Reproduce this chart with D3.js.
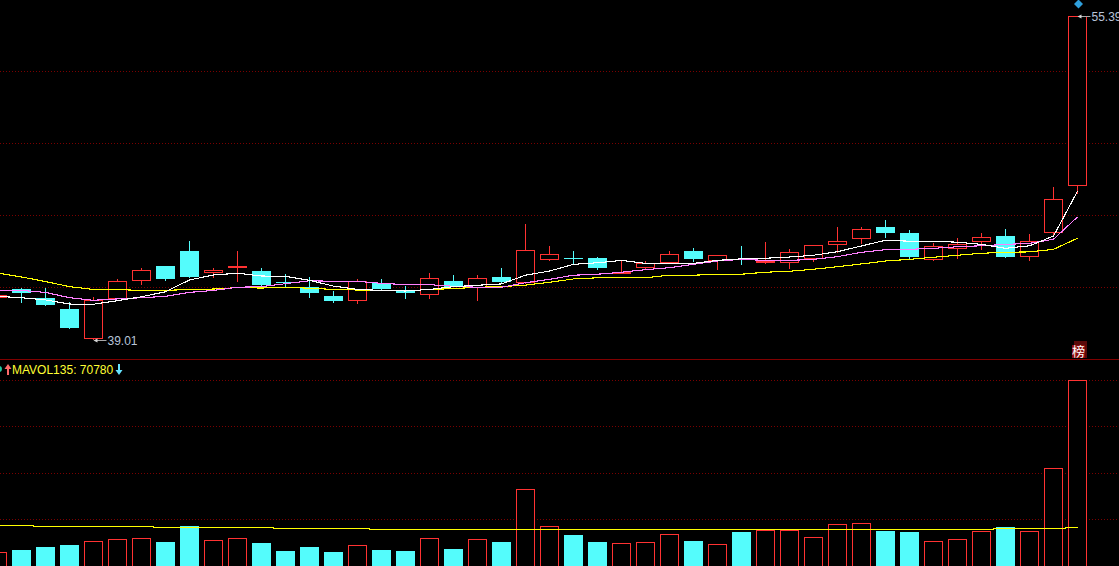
<!DOCTYPE html>
<html>
<head>
<meta charset="utf-8">
<script src="https://cdn.jsdelivr.net/npm/d3@7"></script>
<style>
html,body{margin:0;padding:0;background:#000;overflow:hidden}
svg{display:block}
text{font-family:"Liberation Sans",Arial,sans-serif}
</style>
</head>
<body>
<svg id="chart" width="1119" height="566"></svg>
<script>
const opens  = [41.14,41.57,41.14,40.58,39.04,41.09,42.00,42.76,43.52,42.40,42.66,42.50,41.97,41.69,41.24,40.98,41.90,41.54,41.29,42.00,41.64,42.20,41.90,43.06,43.17,43.16,42.40,42.66,42.91,43.52,43.01,43.12,42.91,42.91,43.11,43.82,44.12,44.73,44.43,43.06,43.62,43.97,44.27,43.21,44.43,46.81];
const closes = [41.29,41.39,40.78,39.62,41.06,42.00,42.55,42.10,42.20,42.55,42.76,41.79,41.92,41.39,40.98,42.00,41.59,41.39,42.15,41.69,42.15,41.95,43.57,43.36,43.15,42.66,42.45,42.91,43.36,43.11,43.31,43.10,43.03,43.47,43.82,44.02,44.63,44.43,43.21,43.77,43.87,44.22,43.21,44.02,46.15,55.39];
const highs  = [41.34,41.64,41.64,40.93,41.19,42.10,42.66,42.76,44.02,42.66,43.52,42.66,42.35,42.20,41.49,42.10,42.10,41.74,42.40,42.30,42.30,42.66,44.88,43.77,43.52,43.21,43.06,43.01,43.52,43.67,43.31,43.77,43.97,43.62,43.82,44.73,44.73,45.09,44.58,43.92,44.17,44.43,44.63,44.38,46.76,55.39];
const lows   = [41.14,40.90,40.73,39.57,39.01,41.09,41.79,42.00,42.15,42.15,41.95,41.64,41.69,41.14,40.88,40.83,41.54,41.09,41.09,41.69,40.98,41.90,41.85,43.01,42.81,42.55,42.35,42.61,42.91,42.96,42.55,42.81,42.86,42.61,42.96,43.41,43.87,44.17,43.11,43.01,43.11,43.57,43.16,43.01,44.27,46.40];
const ma5    = [41.22,41.15,41.04,40.83,40.82,41.00,41.20,41.45,42.05,42.30,42.39,42.25,42.23,42.03,41.74,41.57,41.52,41.49,41.57,41.71,41.78,41.85,42.29,42.50,42.84,42.92,43.04,42.89,42.89,42.89,43.04,43.12,43.15,43.21,43.30,43.48,43.77,44.06,44.01,44.01,43.96,43.85,43.65,43.78,44.27,46.54];
const ma10   = [41.54,41.52,41.42,41.15,41.02,41.09,41.15,41.22,41.42,41.52,41.68,41.71,41.86,42.01,41.98,41.98,41.88,41.81,41.81,41.73,41.68,41.68,41.91,42.08,42.29,42.34,42.44,42.57,42.67,42.84,43.01,43.09,43.04,43.04,43.09,43.23,43.45,43.58,43.60,43.65,43.73,43.78,43.85,43.90,44.11,45.24];
const ma20   = [42.40,42.20,41.97,41.71,41.57,41.56,41.52,41.52,41.57,41.59,41.66,41.64,41.68,41.63,41.57,41.54,41.52,41.49,41.57,41.61,41.68,41.71,41.79,41.93,42.10,42.16,42.16,42.16,42.29,42.29,42.34,42.34,42.44,42.49,42.59,42.72,42.86,43.01,43.09,43.20,43.30,43.40,43.45,43.47,43.60,44.16];
const volumes= [25180,29410,34920,38600,45400,49070,50910,44110,73520,47240,50910,42270,27570,34920,25730,38050,29410,27570,50910,31250,49070,44110,140970,72970,56980,44110,41720,43560,58260,45950,39880,62490,65620,65620,52750,76640,78480,64330,62490,45400,49070,63780,71680,63780,179570,341320];
const mavol  = [74800,74800,72970,72970,72970,72970,72970,71130,71130,71130,71130,71130,69290,69290,69290,69290,67450,67450,67450,67450,67450,67450,67450,67450,67450,67450,67450,67450,67450,67450,67450,67450,67450,67450,67450,67450,67450,67450,67450,67450,67450,67450,69290,69290,69290,70780];
const priceGrid = [52.60,48.96,45.31,41.67];
const volGrid   = [340950,256400,170000,85470];
const lowLabel  = "39.01";
const highLabel = "55.39";
const legendText = "MAVOL135: 70780";
const badgeText = "榜";

const RED="#ff3232", CYAN="#54fcfc", GRID="#7a0000";
const svg=d3.select("#chart");
svg.append("rect").attr("width",1119).attr("height",566).attr("fill","#000");

const x=d3.scaleLinear().domain([0,45]).range([-2.5,1077.5]);
const yP=d3.scaleLinear().domain([39.01,55.39]).range([340,16.4]);
const yV=d3.scaleLinear().domain([0,341320]).range([566,380.3]);
const snap=v=>Math.floor(v)+0.5;
const idx=d3.range(opens.length);

// grid
svg.append("g").selectAll("line").data(priceGrid).join("line")
  .attr("x1",0).attr("x2",1119).attr("y1",d=>snap(yP(d))).attr("y2",d=>snap(yP(d)))
  .attr("stroke",GRID).attr("stroke-dasharray","1,2").attr("shape-rendering","crispEdges");
svg.append("g").selectAll("line").data(volGrid).join("line")
  .attr("x1",0).attr("x2",1119).attr("y1",d=>snap(yV(d))).attr("y2",d=>snap(yV(d)))
  .attr("stroke",GRID).attr("stroke-dasharray","1,2").attr("shape-rendering","crispEdges");
svg.append("line").attr("x1",0).attr("x2",1119).attr("y1",359.5).attr("y2",359.5)
  .attr("stroke","#800000").attr("shape-rendering","crispEdges");

const isUp=i=>closes[i]>=opens[i];

// candles
const c=svg.append("g").attr("shape-rendering","crispEdges");
c.selectAll("line.w").data(idx).join("line").attr("class","w")
  .attr("x1",i=>x(i)).attr("x2",i=>x(i))
  .attr("y1",i=>Math.round(yP(highs[i]))).attr("y2",i=>Math.round(yP(lows[i])))
  .attr("stroke",i=>isUp(i)?RED:CYAN);
c.selectAll("rect.b").data(idx).join("rect").attr("class","b")
  .each(function(i){
    const t=Math.round(yP(Math.max(opens[i],closes[i])));
    const b=Math.round(yP(Math.min(opens[i],closes[i])));
    const s=d3.select(this);
    if(isUp(i)){
      s.attr("x",x(i)-9).attr("width",18).attr("y",t+0.5).attr("height",Math.max(b-t-1,0.5))
       .attr("fill","#000").attr("stroke",RED);
    } else {
      s.attr("x",x(i)-9.5).attr("width",19).attr("y",t).attr("height",Math.max(b-t,1))
       .attr("fill",CYAN);
    }
  });

// moving averages
const line=d3.line().x((d,i)=>x(i)).y(d=>yP(d));
[[ma20,"#ffff00"],[ma10,"#ff80ff"],[ma5,"#ffffff"]].forEach(([s,col])=>{
  svg.append("path").attr("d",line(s)).attr("fill","none").attr("stroke",col)
    .attr("stroke-width",1.1).attr("shape-rendering","crispEdges");
});

// volume
const v=svg.append("g").attr("shape-rendering","crispEdges");
v.selectAll("rect").data(idx).join("rect").each(function(i){
  const t=Math.round(yV(volumes[i]));
  const s=d3.select(this);
  if(isUp(i)){
    s.attr("x",x(i)-9).attr("width",18).attr("y",t+0.5).attr("height",566-t+3)
     .attr("fill","#000").attr("stroke",RED);
  } else {
    s.attr("x",x(i)-9.5).attr("width",19).attr("y",t).attr("height",566-t).attr("fill",CYAN);
  }
});
const volLine=d3.line().x((d,i)=>x(i)).y(d=>snap(yV(d))).curve(d3.curveStep);
svg.append("path").attr("d",volLine(mavol)).attr("fill","none").attr("stroke","#ffff00")
  .attr("shape-rendering","crispEdges");

// extreme labels
function extreme(i,val,label){
  const xa=x(i), ya=snap(yP(val));
  svg.append("line").attr("x1",xa+2).attr("x2",xa+13).attr("y1",ya).attr("y2",ya).attr("stroke","#a8a8a8");
  svg.append("path").attr("d",`M${xa},${ya}L${xa+4},${ya-2}L${xa+4},${ya+2}Z`).attr("fill","#d8d8d8");
  svg.append("text").attr("x",xa+14).attr("y",ya+4).attr("font-size",12).attr("fill","#b8c4d8").text(label);
}
extreme(4,d3.min(lows),lowLabel);
extreme(45,d3.max(highs),highLabel);

// top diamond
svg.append("path").attr("d",d3.symbol(d3.symbolSquare,40)())
  .attr("transform",`translate(${x(45)+1},4) rotate(45)`).attr("fill","#2f9fdc");

// badge
svg.append("rect").attr("x",1074).attr("y",341).attr("width",13).attr("height",17).attr("fill","#5a0a0a");
svg.append("rect").attr("x",1072).attr("y",345).attr("width",13).attr("height",13).attr("fill","#8a0c0c");
svg.append("text").attr("x",1078.5).attr("y",356).attr("text-anchor","middle")
  .attr("font-size",13).attr("fill","#fff").style("font-family",'"Noto Sans CJK SC"').text(badgeText);

// volume legend
svg.append("circle").attr("cx",-1).attr("cy",369).attr("r",3).attr("fill","#22c8a0");
svg.append("path").attr("d","M8,364L11.5,369L9,369L9,375L7,375L7,369L4.5,369Z").attr("fill","#ff6a6a");
svg.append("text").attr("x",12).attr("y",374).attr("font-size",12).attr("fill","#ffff33").text(legendText);
svg.append("path").attr("d","M119,375L122.5,370L120,370L120,364L118,364L118,370L115.5,370Z").attr("fill","#66e4ff");
</script>
</body>
</html>
